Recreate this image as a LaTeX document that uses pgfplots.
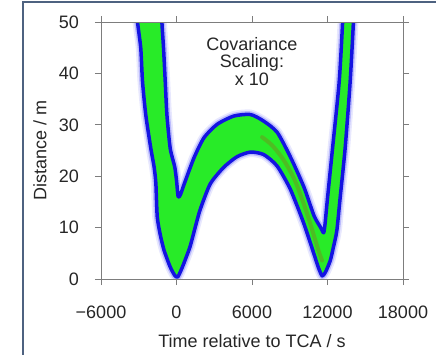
\documentclass[border=0pt]{standalone}
\usepackage{fontspec}
\setmainfont{Liberation Sans}
\usepackage{pgfplots}
\usepackage{pgfplotstable}
\pgfplotsset{compat=1.18}
\definecolor{framecol}{RGB}{78,98,128}
\definecolor{axgray}{RGB}{125,125,125}
\definecolor{cloudblue}{RGB}{20,20,225}
\definecolor{cloudgreen}{RGB}{40,235,40}
\definecolor{halo}{RGB}{150,150,250}
\definecolor{corered}{RGB}{165,85,25}

% outer boundary of the sample cloud (time / s, distance / m)
\pgfplotstableread{
x y
-3350 56
-3100 50
-2840 44.9
-2700 38.4
-2440 31.9
-2040 25.4
-1780 21.8
-1640 18.6
-1530 12.1
-1280 8.5
-990 5.6
-510 2.4
-140 0.7
100 0.4
430 2.1
780 4.3
1090 6.4
1470 9.9
1880 13.5
2680 18.5
3740 21.7
4810 23.8
5880 24.7
6938 24.2
7990 22.0
9040 17.5
10090 11.0
10880 5.2
11280 2.2
11580 0.6
11850 1.4
12220 3.6
12470 6.2
12740 9.4
13000 15.7
13400 25.4
13800 38.4
14060 50
14150 56
13260 56
13200 50
12930 38.4
12400 25.4
12000 15.7
11800 10.6
11690 9.0
11460 10.0
10930 12.3
10140 17.8
9080 23.6
8010 28.5
6938 30.7
5880 32.0
4554 31.7
3234 30.1
2190 27.5
1395 23.6
600 18.4
310 16.4
130 16.0
10 19.0
-140 21.8
-500 25.4
-760 31.9
-895 38.4
-1030 44.9
-1160 50
-1220 56
}\bandtable

% densest part of the cloud
\pgfplotstableread{
x y
6800 27.6
7600 26.0
8500 23.2
9400 19.2
10200 14.0
10800 9.4
11300 5.4
11570 3.6
}\coretable

\begin{document}
\begin{tikzpicture}
\begin{axis}[
  at={(0pt,0pt)}, anchor=south west,
  scale only axis, width=302pt, height=257pt,
  xmin=-6000, xmax=18000, ymin=0, ymax=50,
  xtick={-6000,0,6000,12000,18000},
  xticklabels={−6000,0,6000,12000,18000},
  ytick={0,10,20,30,40,50},
  tick align=outside,
  major tick length=6pt,
  axis line style={axgray, line width=0.7pt},
  every tick/.style={axgray, line width=0.7pt},
  tick label style={font=\fontsize{18}{20}\selectfont, inner sep=0pt, text=black!85},
  yticklabel style={xshift=-16pt},
  xticklabel style={yshift=-21pt},
  /pgf/number format/assume math mode=true,
  scaled x ticks=false,
  xlabel={Time relative to TCA / s},
  ylabel={Distance / m},
  label style={font=\fontsize{18}{20}\selectfont, text=black!85},
  xlabel style={at={(axis description cs:0.5,-0.2646)}, anchor=base},
  ylabel style={at={(axis description cs:-0.202,0.5)}, anchor=center},
  axis on top,
]
\addplot[draw=halo, draw opacity=0.22, line width=10pt, line join=round, smooth, tension=0.4] table {\bandtable};
\addplot[draw=halo!70!blue, draw opacity=0.35, line width=6.5pt, line join=round, smooth, tension=0.4] table {\bandtable};
\addplot[fill=cloudgreen, draw=cloudblue, line width=3.5pt, line join=round, smooth, tension=0.4] table {\bandtable};
\addplot[draw=corered, draw opacity=0.3, line width=4pt, line cap=round, smooth] table {\coretable};
\node[align=center, anchor=north, inner sep=0pt, text=black!85,
      font=\fontsize{18}{17.5}\selectfont] at (axis cs:6000,47.1) {Covariance\\Scaling:\\x 10};
\end{axis}
\draw[framecol, line width=2pt] (-78pt,-120pt) -- (-78pt,277pt) -- (400pt,277pt);
\pgfresetboundingbox
\useasboundingbox (-101pt,-75pt) rectangle (335pt,279pt);
\end{tikzpicture}
\end{document}
